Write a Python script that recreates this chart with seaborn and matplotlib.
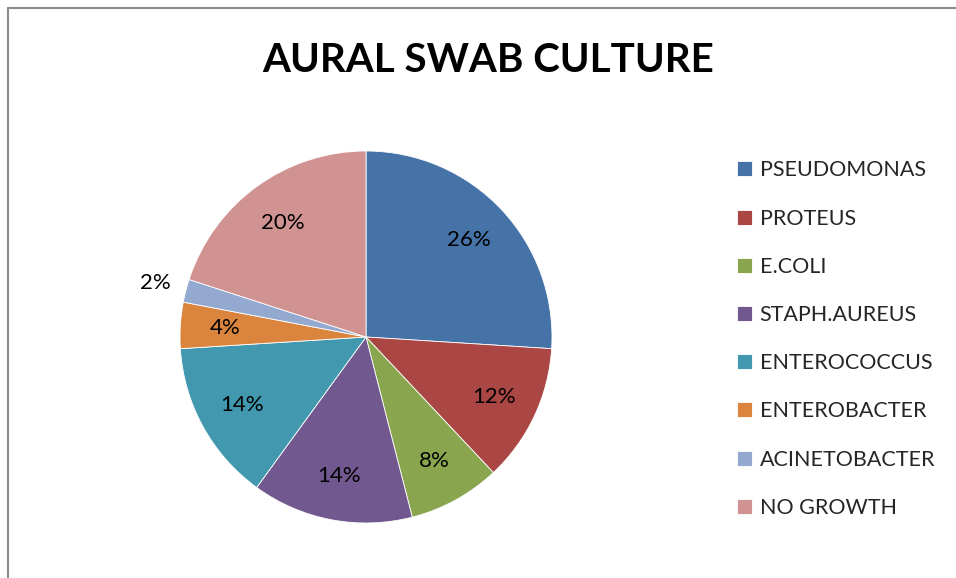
import matplotlib
matplotlib.use("Agg")
import matplotlib.pyplot as plt
import seaborn as sns
from matplotlib.lines import Line2D
import numpy as np

# data
organisms = ["PSEUDOMONAS", "PROTEUS", "E.COLI", "STAPH.AUREUS",
             "ENTEROCOCCUS", "ENTEROBACTER", "ACINETOBACTER", "NO GROWTH"]
percent = [26, 12, 8, 14, 14, 4, 2, 20]
colors = ["#4572A7", "#AA4643", "#89A54E", "#71588F",
          "#4198AF", "#DB843D", "#93A9CF", "#D19392"]

sns.set_theme(style="white")
plt.rcParams['font.family'] = ['Lato', 'DejaVu Sans']

W, H = 956, 578
fig = plt.figure(figsize=(W / 100, H / 100), dpi=100)
fig.patch.set_facecolor("white")

# pie centre (366, 337) px, radius 186 px
cx, cy, r = 366, 337, 186
ax = fig.add_axes([(cx - r) / W, (H - cy - r) / H, 2 * r / W, 2 * r / H])

wedges, texts, autotexts = ax.pie(
    percent, colors=sns.color_palette(colors), startangle=90, counterclock=False,
    autopct="%1.0f%%", pctdistance=0.76,
    wedgeprops=dict(edgecolor="white", linewidth=0.6),
    textprops=dict(fontsize=16, color="black"))
ax.set_xlim(-1, 1)
ax.set_ylim(-1, 1)
ax.set_aspect("equal")
ax.axis("off")

# tiny slice label goes outside
for w, t, p in zip(wedges, autotexts, percent):
    if p < 3:
        ang = np.deg2rad((w.theta1 + w.theta2) / 2)
        t.set_position((1.17 * np.cos(ang), 1.17 * np.sin(ang)))

fig.text(488 / W, 1 - 61 / H, "AURAL SWAB CULTURE", ha="center", va="center",
         fontsize=29, fontweight="bold", color="black")

leg = fig.legend(wedges, organisms, loc="upper left",
                 bbox_to_anchor=(718 / W, 1 - 141 / H), frameon=False,
                 fontsize=15.5, handlelength=0.7, handleheight=0.7,
                 handletextpad=0.33, labelspacing=1.31)

# chart frame (top and left edges visible)
fig.add_artist(Line2D([8 / W, 1], [1 - 8 / H, 1 - 8 / H], color="#8c8c8c", lw=1.5))
fig.add_artist(Line2D([8 / W, 8 / W], [0, 1 - 8 / H], color="#8c8c8c", lw=1.5))

fig.savefig("out.png", dpi=100)
